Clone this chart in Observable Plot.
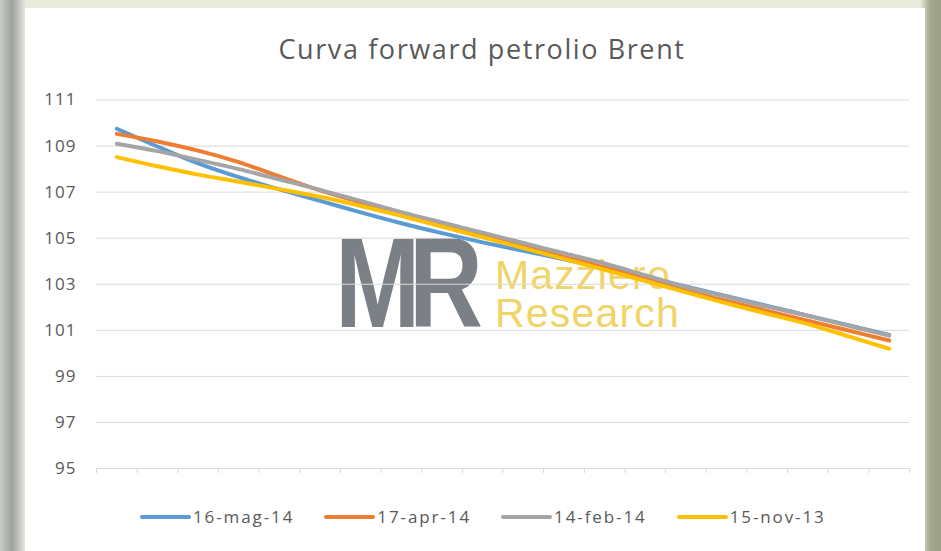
<!DOCTYPE html>
<html>
<head>
<meta charset="utf-8">
<script src="https://cdn.jsdelivr.net/npm/d3@7"></script>
<script src="https://cdn.jsdelivr.net/npm/@observablehq/plot@0.6"></script>
<style>
  html, body { margin: 0; padding: 0; }
  body {
    width: 941px; height: 551px; position: relative; overflow: hidden;
    background: linear-gradient(to right, #c9cbc6 0px, #9ea29c 12px, #c9cac6 20px, #e9ecdc 26px, #e9ecdc 920px, #a3a88c 930px, #9aa085 941px);
    font-family: "Open Sans", sans-serif;
  }
  #card { position: absolute; left: 25px; top: 8px; width: 900px; height: 543px; background: #fff; }
  #title { position: absolute; left: 232px; width: 500px; top: 35px; text-align: center;
           font-size: 27px; line-height: 27px; color: #595959; letter-spacing: 1.6px; white-space: nowrap; }
  #mr { position: absolute; left: 335px; top: 219px; font-family: "Liberation Sans", Arial, sans-serif; font-weight: bold;
        font-size: 128px; line-height: 128px; color: #7b8086; letter-spacing: -14px;
        transform: scaleX(0.8); transform-origin: left top; white-space: nowrap; }
  .mz { position: absolute; left: 495px; font-family: "Liberation Sans", Arial, sans-serif;
        font-size: 41px; line-height: 38px; height: 38px; color: #f0d466; letter-spacing: 1.2px; white-space: nowrap; }
  #chart { position: absolute; left: 0; top: 0; }
  #legend { position: absolute; left: 140px; top: 508px; display: flex; gap: 30px; align-items: center;
            font-size: 17px; line-height: 17px; color: #595959; letter-spacing: 1.9px; white-space: nowrap; }
  .item { display: flex; align-items: center; gap: 2px; }
  .sw { width: 51px; height: 4px; border-radius: 2px; }
</style>
</head>
<body>
<div id="card"></div>
<div id="title">Curva forward petrolio Brent</div>
<div id="mr">MR</div>
<div class="mz" style="top:256px">Mazziero</div>
<div class="mz" style="top:294px">Research</div>
<div id="chart"></div>
<div id="legend"></div>
<script>
// Forward curve points (monthly maturities, unlabelled in the source)
const months = [1, 2, 3, 4, 5, 6, 7, 8, 9, 10, 11, 12, 13, 14, 15, 16, 17, 18, 19, 20];
const may14 = [109.75, 108.98, 108.25, 107.65, 107.12, 106.62, 106.12, 105.65, 105.22, 104.82, 104.45, 104.08, 103.7, 103.3, 102.9, 102.48, 102.06, 101.64, 101.22, 100.8];
const apr14 = [109.53, 109.2, 108.8, 108.3, 107.68, 107.08, 106.55, 106.03, 105.55, 105.1, 104.64, 104.19, 103.73, 103.23, 102.72, 102.27, 101.84, 101.42, 100.99, 100.56];
const feb14 = [109.1, 108.78, 108.4, 108.0, 107.55, 107.1, 106.62, 106.13, 105.68, 105.24, 104.79, 104.35, 103.9, 103.39, 102.88, 102.45, 102.03, 101.63, 101.2, 100.77];
const nov13 = [108.52, 108.12, 107.76, 107.45, 107.13, 106.8, 106.4, 105.97, 105.5, 105.04, 104.57, 104.1, 103.63, 103.14, 102.65, 102.17, 101.72, 101.27, 100.74, 100.2];
const seriesNames = ["16-mag-14", "17-apr-14", "14-feb-14", "15-nov-13"];
const seriesColors = ["#5B9BD5", "#ED7D31", "#A5A5A5", "#FFC000"];
const yTicks = [95, 97, 99, 101, 103, 105, 107, 109, 111];

const seriesValues = [may14, apr14, feb14, nov13];
const data = seriesNames.flatMap((name, s) =>
  months.map((m, i) => ({ series: name, month: m, value: seriesValues[s][i] }))
);
const boundaries = d3.range(months.length + 1).map(i => months[0] - 0.5 + i);

const chart = Plot.plot({
  width: 941,
  height: 490,
  marginLeft: 96,
  marginRight: 32,
  marginTop: 99.5,
  marginBottom: 22,
  x: { domain: [months[0] - 0.5, months[months.length - 1] + 0.5], axis: null },
  y: { domain: [yTicks[0], yTicks[yTicks.length - 1]], axis: null },
  color: { domain: seriesNames, range: seriesColors },
  style: { background: "transparent", fontFamily: "'Open Sans', sans-serif", fontSize: "17px", color: "#595959", overflow: "visible", letterSpacing: "1px" },
  marks: [
    Plot.ruleY(yTicks, { stroke: "#d9d9d9", strokeWidth: 1, strokeOpacity: 1 }),
    Plot.axisX({ ticks: boundaries, tickSize: 5, tickFormat: () => "", stroke: "#d9d9d9", strokeOpacity: 1, label: null }),
    Plot.axisY({ ticks: yTicks, tickSize: 0, tickPadding: 20, tickFormat: d => String(d), label: null, fill: "#595959" }),
    Plot.line(data, { x: "month", y: "value", z: "series", stroke: "series", strokeWidth: 4, curve: "catmull-rom", strokeLinecap: "round", strokeLinejoin: "round" })
  ]
});
document.getElementById("chart").appendChild(chart);

const legend = document.getElementById("legend");
seriesNames.forEach((name, i) => {
  const item = document.createElement("div");
  item.className = "item";
  const sw = document.createElement("div");
  sw.className = "sw";
  sw.style.background = seriesColors[i];
  const label = document.createElement("span");
  label.textContent = name;
  item.appendChild(sw);
  item.appendChild(label);
  legend.appendChild(item);
});
</script>
</body>
</html>
